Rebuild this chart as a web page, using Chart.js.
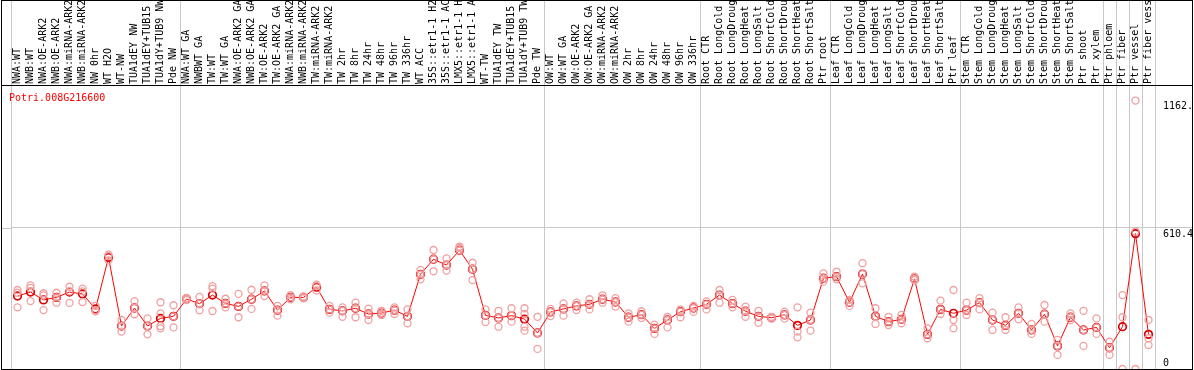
<!DOCTYPE html>
<html>
<head>
<meta charset="utf-8">
<script src="https://cdn.jsdelivr.net/npm/chart.js@4.4.1/dist/chart.umd.min.js"></script>
<style>
  html, body { margin: 0; padding: 0; background: #fff; }
  canvas { display: block; }
</style>
</head>
<body>
<canvas id="expr" width="1194" height="370"></canvas>
<script>
const geneId = 'Potri.008G216600';

const samples = [
  'NWA:WT', 'NWB:WT', 'NWA:OE-ARK2', 'NWB:OE-ARK2', 'NWA:miRNA-ARK2', 'NWB:miRNA-ARK2',
  'NW 0hr', 'WT H2O', 'WT-NW', 'TUA1dEY NW', 'TUA1dEY+TUB15 NW', 'TUA1dY+TUB9 NW', 'Pde NW',
  'NWA:WT GA', 'NWBWT GA', 'TW:WT', 'TW:WT GA', 'NWA:OE-ARK2 GA', 'NWB:OE-ARK2 GA',
  'TW:OE-ARK2', 'TW:OE-ARK2 GA', 'NWA:miRNA-ARK2', 'NWB:miRNA-ARK2', 'TW:miRNA-ARK2', 'TW:miRNA-ARK2',
  'TW 2hr', 'TW 8hr', 'TW 24hr', 'TW 48hr', 'TW 96hr', 'TW 336hr', 'WT ACC',
  '35S::etr1-1 H2O', '35S::etr1-1 ACC', 'LMX5::etr1-1 H2O', 'LMX5::etr1-1 ACC',
  'WT-TW', 'TUA1dEY TW', 'TUA1dEY+TUB15 TW', 'TUA1dY+TUB9 TW', 'Pde TW',
  'OW:WT', 'OW:WT GA', 'OW:OE-ARK2', 'OW:OE-ARK2 GA', 'OW:miRNA-ARK2', 'OW:miRNA-ARK2',
  'OW 2hr', 'OW 8hr', 'OW 24hr', 'OW 48hr', 'OW 96hr', 'OW 336hr',
  'Root CTR', 'Root LongCold', 'Root LongDrought', 'Root LongHeat', 'Root LongSalt',
  'Root ShortCold', 'Root ShortDrought', 'Root ShortHeat', 'Root ShortSalt', 'Ptr root',
  'Leaf CTR', 'Leaf LongCold', 'Leaf LongDrought', 'Leaf LongHeat', 'Leaf LongSalt',
  'Leaf ShortCold', 'Leaf ShortDrought', 'Leaf ShortHeat', 'Leaf ShortSalt', 'Ptr leaf',
  'Stem CTR', 'Stem LongCold', 'Stem LongDrought', 'Stem LongHeat', 'Stem LongSalt',
  'Stem ShortCold', 'Stem ShortDrought', 'Stem ShortHeat', 'Stem ShortSalt', 'Ptr shoot',
  'Ptr xylem', 'Ptr phloem', 'Ptr fiber', 'Ptr vessel', 'Ptr fiber vessel'
];

// mean expression per sample
const means = [
  316, 333, 299, 310, 333, 325, 260, 483, 186, 264, 186, 219, 228,
  303, 283, 320, 284, 271, 302, 338, 255, 310, 310, 354, 258, 252, 263, 238, 242, 255, 228,
  410, 475, 450, 514, 432, 232, 221, 231, 216, 156,
  247, 260, 273, 280, 302, 290, 224, 235, 176, 212, 248, 264,
  280, 320, 283, 250, 228, 222, 234, 189, 212, 393,
  400, 289, 411, 228, 205, 215, 390, 150, 258, 241,
  255, 287, 212, 189, 241, 169, 237, 100, 224, 169,
  180, 92, 183, 586, 150
];

// single replicates per sample
const replicates = [
  [342, 330, 267], [362, 351, 294], [328, 319, 255], [330, 310, 287], [356, 336, 286],
  [348, 336, 290], [273, 255, 250], [495, 489, 470], [212, 186, 162], [294, 264, 237],
  [219, 186, 150], [289, 241, 186, 176], [276, 228, 180], [308, 303, 298], [312, 283, 254],
  [359, 348, 251], [304, 284, 267], [325, 271, 224], [343, 302, 260], [362, 338, 316],
  [273, 255, 231], [320, 310, 302], [314, 310, 306], [365, 359, 340], [273, 258, 244],
  [267, 252, 226], [287, 263, 224], [261, 238, 212], [252, 242, 234], [267, 255, 238],
  [258, 228, 198], [429, 410, 388], [515, 475, 423], [479, 450, 426], [530, 524, 514],
  [460, 432, 385], [258, 232, 203], [252, 221, 183], [263, 231, 205], [263, 238, 183, 166],
  [226, 156, 87], [260, 247, 229], [284, 260, 231], [287, 273, 255], [302, 280, 258],
  [319, 302, 287], [307, 290, 270], [241, 224, 205], [250, 235, 221], [192, 176, 152],
  [226, 212, 180], [258, 248, 224], [273, 264, 247], [293, 280, 258], [342, 320, 287],
  [299, 283, 267], [270, 250, 226], [252, 228, 200], [226, 222, 218], [248, 234, 218],
  [267, 162, 137], [244, 212, 166], [414, 393, 378], [421, 400, 388], [299, 289, 273],
  [458, 411, 371], [263, 228, 195], [226, 205, 190], [234, 215, 198], [400, 390, 385],
  [176, 150, 133], [296, 258, 238], [342, 212, 176], [287, 255, 234], [307, 287, 258],
  [244, 212, 169], [224, 189, 169], [267, 241, 215], [195, 169, 152], [277, 237, 205],
  [126, 100, 61], [241, 224, 212], [252, 169, 100], [219, 180, 152], [118, 92, 61],
  [320, 224, 0], [1162, 595, 0], [212, 133, 104]
];

// index of the first sample of each group (a grey separator is drawn before it)
const groupStarts = [0, 13, 41, 53, 63, 73, 84, 85, 86, 87];

const yTicks = [0, 610.4, 1162];
const yTickLabels = ['0', '610.4', '1162.'];
const yMax = 1225;

const monoFont = { family: 'DejaVu Sans Mono', size: 10 };

// one point dataset per replicate slot
const repSets = [0, 1, 2, 3].map(k => ({
  type: 'line',
  data: replicates.map(r => (r[k] === undefined ? null : r[k])),
  showLine: false,
  pointStyle: 'circle',
  pointRadius: 3.5,
  pointBorderWidth: 1.3,
  pointBorderColor: '#f0a0a0',
  pointBackgroundColor: 'transparent',
  pointHoverRadius: 3.5
}));

const framePlugin = {
  id: 'frame',
  afterDraw(chart) {
    const { ctx, chartArea, scales } = chart;
    ctx.save();
    // grey line at the middle tick, continued to the left border
    const yMid = Math.round(scales.y.getPixelForValue(610.4)) + 0.5;
    ctx.strokeStyle = '#c8c8c8';
    ctx.lineWidth = 1;
    ctx.beginPath();
    ctx.moveTo(1, yMid);
    ctx.lineTo(chartArea.left, yMid);
    ctx.stroke();

    ctx.strokeStyle = '#000';
    ctx.beginPath();
    ctx.moveTo(1, chartArea.top - 0.5);
    ctx.lineTo(1193, chartArea.top - 0.5);
    ctx.stroke();
    ctx.strokeRect(1.5, 0.5, 1191, 369);

    ctx.fillStyle = '#ff0000';
    ctx.font = '10px "DejaVu Sans Mono"';
    ctx.textBaseline = 'alphabetic';
    ctx.fillText(geneId, 9, 101);
    ctx.restore();
  }
};

new Chart(document.getElementById('expr'), {
  type: 'line',
  data: {
    labels: samples,
    datasets: [
      ...repSets,
      {
        data: means,
        borderColor: '#ff0000',
        borderWidth: 1,
        tension: 0,
        pointStyle: 'circle',
        pointRadius: 3.8,
        pointBorderWidth: 1.7,
        pointBorderColor: '#dd0000',
        pointBackgroundColor: 'transparent',
        pointHoverRadius: 3.8
      }
    ]
  },
  options: {
    responsive: false,
    animation: false,
    devicePixelRatio: 1,
    layout: { autoPadding: false, padding: { left: 11, right: 2, top: 0, bottom: 1 } },
    plugins: {
      legend: { display: false },
      tooltip: { enabled: false }
    },
    scales: {
      x: {
        type: 'category',
        position: 'top',
        offset: true,
        border: { display: false },
        grid: {
          offset: true,
          drawOnChartArea: true,
          drawTicks: true,
          tickLength: 86,
          lineWidth: 1,
          color: ctx => (ctx.index === undefined || groupStarts.includes(ctx.index)) ? '#c8c8c8' : 'transparent'
        },
        ticks: {
          autoSkip: false,
          maxRotation: 90,
          minRotation: 90,
          padding: -84,
          labelOffset: 12,
          color: '#000',
          font: monoFont
        },
        afterFit: s => { s.height = 86; }
      },
      y: {
        type: 'linear',
        position: 'right',
        min: 0,
        max: yMax,
        border: { display: false },
        afterBuildTicks: s => { s.ticks = yTicks.map(v => ({ value: v })); },
        grid: {
          drawTicks: true,
          tickLength: 37,
          color: ctx => (ctx.tick && ctx.tick.value === 610.4) ? '#c8c8c8' : 'transparent'
        },
        ticks: {
          padding: -29,
          color: '#000',
          font: monoFont,
          callback: (v, i) => (i === 0 ? [yTickLabels[i], ''] : ['', yTickLabels[i]])
        },
        afterFit: s => { s.width = 37; }
      }
    }
  },
  plugins: [framePlugin]
});
</script>
</body>
</html>
